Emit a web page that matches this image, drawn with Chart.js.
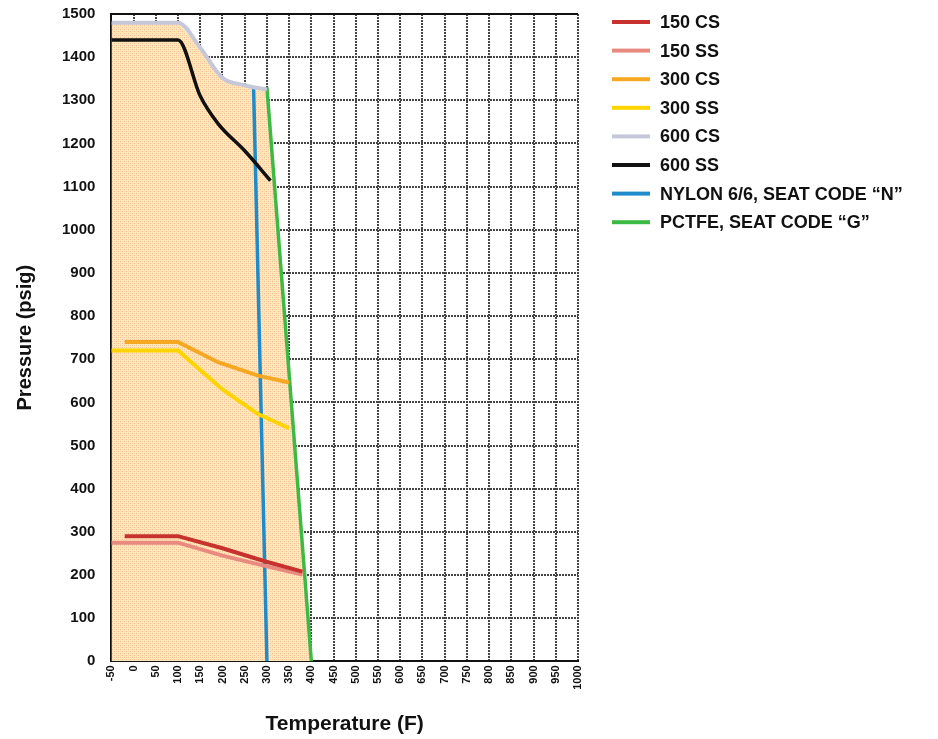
<!DOCTYPE html>
<html><head><meta charset="utf-8">
<script src="https://cdn.jsdelivr.net/npm/chart.js@4"></script>
<style>html,body{margin:0;padding:0;background:#fff;overflow:hidden}#wrap{width:938px;height:752px;margin-top:-11px}</style>
</head><body><div id="wrap"><canvas id="c" width="938" height="752"></canvas></div>
<script>
const xTicks = [-50,0,50,100,150,200,250,300,350,400,450,500,550,600,650,700,750,800,850,900,950,1000];
const yTicks = [0,100,200,300,400,500,600,700,800,900,1000,1100,1200,1300,1400,1500];
const seriesNames = ['150 CS','150 SS','300 CS','300 SS','600 CS','600 SS','NYLON 6/6, SEAT CODE \u201CN\u201D','PCTFE, SEAT CODE \u201CG\u201D'];
const s150CS = [{x:-20,y:290},{x:100,y:290},{x:200,y:262},{x:295,y:232},{x:380,y:208}];
const s150SS = [{x:-50,y:275},{x:100,y:275},{x:200,y:245},{x:300,y:220},{x:380,y:201}];
const s300CS = [{x:-20,y:740},{x:100,y:740},{x:190,y:693},{x:280,y:662},{x:350,y:646}];
const s300SS = [{x:-50,y:720},{x:100,y:720},{x:200,y:630},{x:280,y:573},{x:350,y:540}];
const s600CS = [{x:-50,y:1480},{x:100,y:1480},{x:150,y:1422},{x:200,y:1352},{x:250,y:1335},{x:300,y:1325}];
const s600SS = [{x:-50,y:1440},{x:100,y:1440},{x:150,y:1310},{x:190,y:1246},{x:250,y:1183},{x:308,y:1114}];
const sNylon = [{x:270,y:1330},{x:300,y:0}];
const sPCTFE = [{x:300,y:1330},{x:400,y:0}];
const envelope = [{x:-50,y:1480},{x:100,y:1480},{x:150,y:1422},{x:200,y:1352},{x:250,y:1335},{x:300,y:1325},{x:400,y:0}];

function makePattern(){
  const p=document.createElement('canvas');p.width=4;p.height=4;
  const g=p.getContext('2d');
  g.fillStyle='#fde9b8';g.fillRect(0,0,4,4);
  g.fillStyle='#f5bd96';g.fillRect(0,0,1,1);g.fillRect(2,2,1,1);
  g.fillStyle='#fad6aa';g.fillRect(2,0,1,1);g.fillRect(0,2,1,1);
  return document.getElementById('c').getContext('2d').createPattern(p,'repeat');
}
const colors = ['#c7322e','#e98a80','#f7a823','#ffd400','#c6c8da','#111111','#1e8ccc','#3dba45'];
const widths = [4,4,4,4,4,3.5,3.5,3.5];
const smooth = [false,false,false,false,true,true,false,false];
const dataArr = [s150CS,s150SS,s300CS,s300SS,s600CS,s600SS,sNylon,sPCTFE];
const datasets = dataArr.map((d,i)=>({label:seriesNames[i],data:d,borderColor:colors[i],backgroundColor:colors[i],borderWidth:widths[i],pointRadius:0,fill:false,cubicInterpolationMode:smooth[i]?'monotone':'default',tension:0,order:1}));
datasets.push({label:'envelope',data:envelope,borderWidth:0,borderColor:'rgba(0,0,0,0)',backgroundColor:makePattern(),fill:'origin',pointRadius:0,order:10});

const font="'Liberation Sans', Arial, sans-serif";
const frame={id:'frame',afterDraw(ch){const a=ch.chartArea,c=ch.ctx;c.save();c.strokeStyle='#111';c.lineWidth=2;c.beginPath();c.moveTo(a.left,a.top);c.lineTo(a.right,a.top);c.stroke();c.restore();}};
const sideLegend={id:'sideLegend',afterDraw(ch){
  const c=ch.ctx;c.save();
  const x0=ch.chartArea.right+34, y0=ch.chartArea.top+8, step=28.6;
  c.font="bold 18px "+font;c.textBaseline='middle';c.textAlign='left';
  ch.data.datasets.forEach((d,i)=>{
    if(d.label==='envelope')return;
    const y=y0+i*step;
    c.fillStyle=d.borderColor;c.fillRect(x0,y-2,38,4);
    c.fillStyle='#111';c.fillText(d.label,x0+48,y+1);
  });
  c.restore();}};

new Chart(document.getElementById('c'),{
  type:'line',
  data:{datasets},
  plugins:[frame,sideLegend],
  options:{
    responsive:false,animation:false,
    layout:{padding:{top:-6,right:360,left:9,bottom:0}},
    plugins:{tooltip:{enabled:false},legend:{display:false}},
    scales:{
      x:{type:'linear',min:-50,max:1000,
        afterBuildTicks:(s)=>{s.ticks=xTicks.map(v=>({value:v}));},
        ticks:{autoSkip:false,minRotation:90,maxRotation:90,color:'#111',font:{family:font,size:11,weight:'bold'},padding:4,callback:(v)=>String(v)},
        grid:{color:'#444',lineWidth:2,drawTicks:false},
        border:{display:true,color:'#111',width:2,dash:[2,1]},
        title:{display:true,text:'Temperature (F)',color:'#111',font:{family:font,size:21,weight:'bold'},padding:{top:18}}},
      y:{type:'linear',min:0,max:1500,
        afterBuildTicks:(s)=>{s.ticks=yTicks.map(v=>({value:v}));},
        ticks:{color:'#111',font:{family:font,size:15,weight:'bold'},padding:16,callback:(v)=>String(v)},
        grid:{color:'#444',lineWidth:2,drawTicks:false},
        border:{display:true,color:'#111',width:2,dash:[2,1]},
        title:{display:true,text:'Pressure (psig)',color:'#111',font:{family:font,size:20,weight:'bold'},padding:{bottom:9}}}
    }
  }
});
</script></body></html>
